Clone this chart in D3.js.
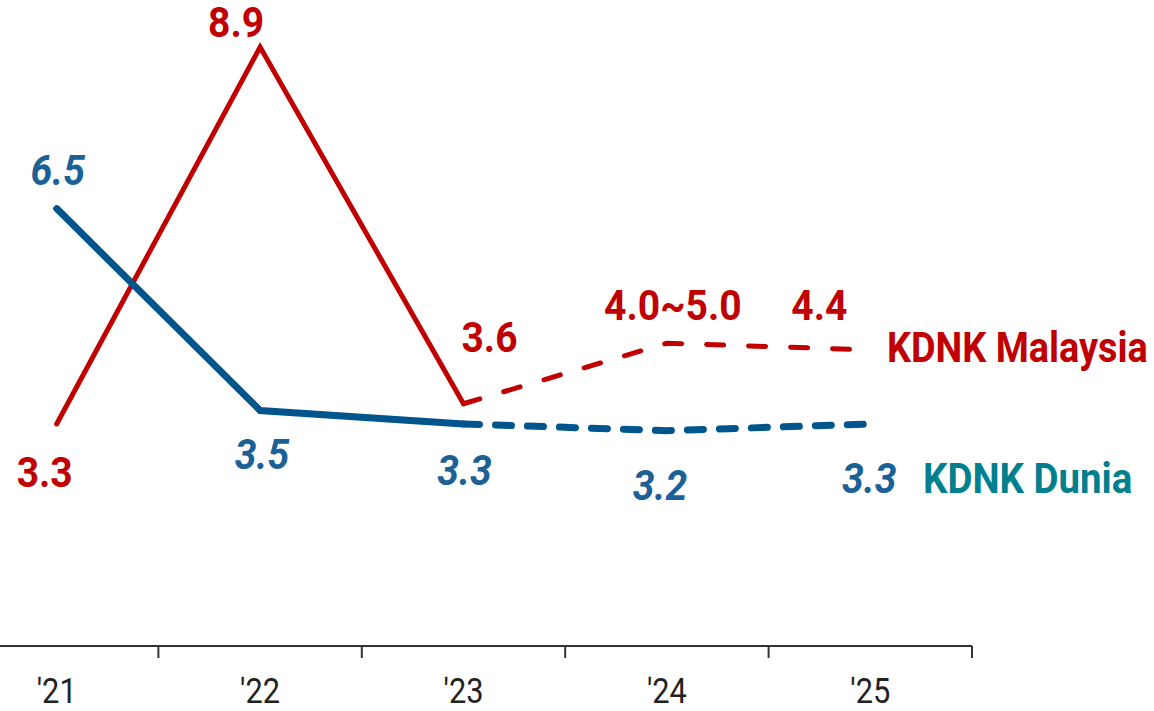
<!DOCTYPE html>
<html>
<head>
<meta charset="utf-8">
<script src="https://cdn.jsdelivr.net/npm/d3@7/dist/d3.min.js"></script>
<style>
  html, body { margin: 0; padding: 0; background: #fff; }
  svg { display: block; }
  .num { font-family: Roboto, "Noto Sans", sans-serif; font-weight: bold; font-size: 42px; }
  .leg { font-family: Roboto, "Noto Sans", sans-serif; font-weight: bold; font-size: 42px; }
  .tick text { font-family: Roboto, "Noto Sans", sans-serif; font-size: 35px; fill: #222; }
</style>
</head>
<body>
<svg id="chart" width="1154" height="711"></svg>
<script>
const years = ["'21", "'22", "'23", "'24", "'25"];
const malaysia = [3.3, 8.9, 3.6, 4.5, 4.4];
const malaysiaLabels = ["3.3", "8.9", "3.6", "4.0~5.0", "4.4"];
const dunia = [6.5, 3.5, 3.3, 3.2, 3.3];
const duniaLabels = ["6.5", "3.5", "3.3", "3.2", "3.3"];
const seriesNames = ["KDNK Malaysia", "KDNK Dunia"];
const actualCount = 3; // '21-'23 actual, '23-'25 forecast (dashed)

const RED = "#C00000", BLUE = "#00558C", BLUE_TXT = "#1B6196", TEAL = "#00808F";

const svg = d3.select("#chart");
const x = d3.scaleBand().domain(years).range([-45, 972]);
const cx = d => x(d) + x.bandwidth() / 2;
const y = d3.scaleLinear().domain([0, 9.6]).range([646, 0]);

function condense(sel, f) {
  sel.each(function () {
    const L = this.getComputedTextLength();
    d3.select(this).attr("textLength", L * f).attr("lengthAdjust", "spacingAndGlyphs");
  });
}

// axis
const axis = d3.axisBottom(x).tickSize(0).tickPadding(32);
const gAxis = svg.append("g").attr("transform", `translate(0,${y(0)})`).call(axis);
gAxis.select(".domain").remove();
gAxis.selectAll(".tick line").remove();
gAxis.attr("font-family", null).attr("font-size", null);
condense(gAxis.selectAll(".tick text"), 0.88);
svg.append("line").attr("x1", 0).attr("x2", 972).attr("y1", y(0)).attr("y2", y(0))
  .attr("stroke", "#333").attr("stroke-width", 2);
svg.selectAll(".bnd").data(years).enter().append("line")
  .attr("x1", d => x(d) + x.bandwidth()).attr("x2", d => x(d) + x.bandwidth())
  .attr("y1", y(0)).attr("y2", y(0) + 12).attr("stroke", "#333").attr("stroke-width", 2);

const line = d3.line().x(d => cx(d.k)).y(d => y(d.v));
function pts(vals) { return vals.map((v, i) => ({ k: years[i], v })); }

function drawSeries(vals, color, width, dash) {
  const p = pts(vals);
  svg.append("path").datum(p.slice(0, actualCount)).attr("d", line)
    .attr("fill", "none").attr("stroke", color).attr("stroke-width", width)
    .attr("stroke-linecap", "round").attr("stroke-linejoin", "miter");
  svg.append("path").datum(p.slice(actualCount - 1)).attr("d", line)
    .attr("fill", "none").attr("stroke", color).attr("stroke-width", width)
    .attr("stroke-linecap", "round").attr("stroke-dasharray", dash);
}
drawSeries(malaysia, RED, 5, "17,25");
drawSeries(dunia, BLUE, 7, "16,16");

// value labels
const redOff = [[-12, 63], [-24, -10], [26, -52], [6, -23], [-51, -30]];
const blueOff = [[1, -24], [2, 59], [1, 61], [-7, 69], [-1, 69]];
const rl = svg.selectAll(".rl").data(malaysia).enter().append("text").attr("class", "num")
  .attr("x", (d, i) => cx(years[i]) + redOff[i][0])
  .attr("y", (d, i) => y(d) + redOff[i][1])
  .attr("text-anchor", "middle").attr("fill", RED)
  .text((d, i) => malaysiaLabels[i]);
const bl = svg.selectAll(".bl").data(dunia).enter().append("text").attr("class", "num")
  .attr("x", (d, i) => cx(years[i]) + blueOff[i][0])
  .attr("y", (d, i) => y(d) + blueOff[i][1])
  .attr("text-anchor", "middle").attr("fill", BLUE_TXT).attr("font-style", "italic")
  .text((d, i) => duniaLabels[i]);
condense(rl, 0.93);
condense(bl, 0.93);

// series names
const l1 = svg.append("text").attr("class", "leg").attr("x", 887).attr("y", y(malaysia[4]) + 12)
  .attr("fill", RED).text(seriesNames[0]);
const l2 = svg.append("text").attr("class", "leg").attr("x", 923).attr("y", y(dunia[4]) + 69)
  .attr("fill", TEAL).text(seriesNames[1]);
condense(l1, 0.90);
condense(l2, 0.915);
</script>
</body>
</html>
